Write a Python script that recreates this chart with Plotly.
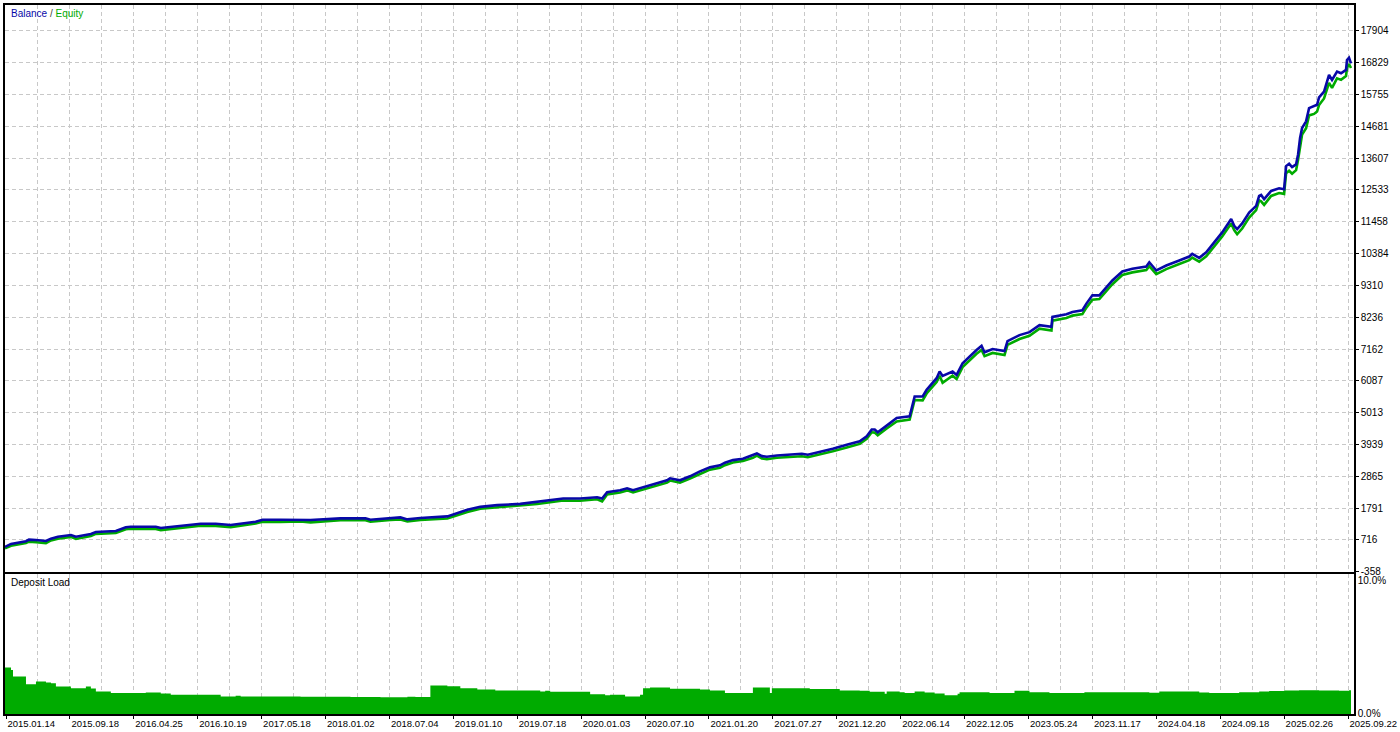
import plotly.graph_objects as go

# ---------------- data ----------------
trade_idx = [0, 6, 21, 24, 31, 41, 46, 53, 66, 71, 86, 91, 111, 121, 126, 151, 156, 186, 196, 211,
             226, 251, 258, 276, 296, 306, 336, 361, 366, 386, 396, 403, 416, 443, 463, 476, 493, 516,
             533, 546, 559, 576, 593, 598, 603, 616, 623, 629, 643, 649, 663, 666, 673, 676, 686, 696,
             706, 716, 721, 729, 739, 749, 753, 758, 763, 773, 786, 798, 804, 816, 829, 843, 856, 863,
             868, 871, 874, 883, 893, 906, 911, 919, 923, 933, 936, 939, 949, 953, 959, 973, 978, 981,
             989, 1001, 1004, 1016, 1026, 1036, 1043, 1048, 1049, 1063, 1069, 1079, 1083, 1089, 1096,
             1101, 1109, 1119, 1129, 1143, 1146, 1153, 1163, 1176, 1186, 1189, 1196, 1203, 1211, 1219,
             1228, 1231, 1234, 1239, 1246, 1253, 1256, 1258, 1261, 1268, 1276, 1281, 1283, 1286, 1289,
             1293, 1295, 1297, 1299, 1303, 1306, 1311, 1314, 1316, 1321, 1326, 1329, 1334, 1338, 1343,
             1344, 1346, 1348]

balance = [481, 582, 673, 726, 716, 683, 760, 827, 884, 827, 918, 985, 1018, 1143, 1163, 1163, 1119,
           1220, 1263, 1263, 1220, 1331, 1398, 1398, 1398, 1388, 1445, 1445, 1398, 1455, 1478, 1411,
           1455, 1512, 1733, 1834, 1891, 1935, 2002, 2059, 2116, 2116, 2160, 2116, 2328, 2395, 2462,
           2395, 2529, 2586, 2730, 2798, 2754, 2730, 2865, 3033, 3167, 3234, 3325, 3412, 3459, 3570,
           3637, 3546, 3526, 3570, 3603, 3627, 3593, 3680, 3795, 3929, 4050, 4218, 4443, 4443, 4352,
           4577, 4835, 4889, 5560, 5560, 5785, 6178, 6400, 6255, 6400, 6289, 6682, 7128, 7272, 7051,
           7162, 7095, 7430, 7632, 7732, 7967, 7934, 7910, 8246, 8337, 8414, 8471, 8696, 8974, 8974,
           9166, 9478, 9780, 9871, 9948, 10092, 9814, 9982, 10149, 10284, 10374, 10240, 10428, 10764,
           11099, 11549, 11324, 11214, 11402, 11771, 11996, 12331, 12365, 12221, 12499, 12590, 12556,
           13339, 13416, 13305, 13396, 13731, 14289, 14624, 14849, 15296, 15353, 15410, 15655, 15856,
           16417, 16249, 16528, 16471, 16585, 16920, 16998, 16806]

equity = [430, 520, 610, 660, 640, 610, 700, 760, 820, 750, 850, 920, 950, 1080, 1100, 1090, 1050,
          1150, 1200, 1190, 1150, 1270, 1330, 1320, 1340, 1310, 1380, 1380, 1330, 1390, 1410, 1340,
          1390, 1440, 1660, 1770, 1820, 1870, 1930, 1990, 2050, 2040, 2090, 2020, 2250, 2320, 2390,
          2320, 2450, 2510, 2650, 2720, 2670, 2650, 2790, 2950, 3090, 3150, 3240, 3330, 3380, 3490,
          3560, 3470, 3440, 3490, 3520, 3540, 3510, 3600, 3710, 3840, 3960, 4130, 4350, 4340, 4250,
          4480, 4720, 4780, 5440, 5430, 5660, 6050, 6260, 6020, 6260, 6150, 6550, 7000, 7130, 6920,
          7030, 6960, 7300, 7500, 7610, 7850, 7810, 7790, 8120, 8210, 8290, 8340, 8560, 8830, 8850,
          9040, 9350, 9660, 9750, 9830, 9960, 9690, 9860, 10030, 10160, 10250, 10110, 10290, 10630,
          10960, 11400, 11180, 11040, 11230, 11600, 11850, 12180, 12150, 12030, 12330, 12430, 12400,
          13100, 13180, 13080, 13200, 13550, 14050, 14400, 14620, 15050, 15100, 15180, 15400, 15620,
          16150, 15980, 16300, 16250, 16380, 16650, 16780, 16650]

load_idx = [0, 6, 8, 16, 21, 28, 31, 41, 46, 51, 66, 81, 86, 91, 96, 106, 136, 141, 156, 166, 206,
            216, 231, 236, 296, 346, 376, 403, 411, 426, 443, 456, 473, 491, 516, 536, 541, 546, 576,
            586, 601, 606, 621, 636, 639, 646, 666, 686, 696, 706, 716, 721, 748, 749, 764, 766, 768,
            796, 806, 826, 836, 856, 866, 881, 883, 896, 901, 911, 921, 931, 941, 948, 954, 956, 986,
            1006, 1011, 1021, 1026, 1046, 1066, 1081, 1116, 1146, 1156, 1196, 1206, 1226, 1236, 1256,
            1266, 1281, 1296, 1316, 1336, 1346, 1348]

load_pct = [3.49, 3.31, 2.81, 2.81, 2.24, 2.24, 2.44, 2.37, 2.31, 2.07, 1.94, 2.07, 1.92, 1.69, 1.69,
            1.57, 1.57, 1.62, 1.54, 1.44, 1.44, 1.32, 1.37, 1.32, 1.30, 1.28, 1.25, 1.29, 1.27, 2.14,
            2.09, 1.94, 1.84, 1.77, 1.77, 1.69, 1.74, 1.66, 1.66, 1.49, 1.40, 1.44, 1.32, 1.44, 1.94,
            1.99, 1.89, 1.89, 1.84, 1.77, 1.77, 1.57, 1.57, 1.99, 1.99, 1.57, 1.94, 1.94, 1.87, 1.87,
            1.77, 1.74, 1.66, 1.51, 1.69, 1.64, 1.57, 1.69, 1.62, 1.54, 1.40, 1.40, 1.51, 1.64, 1.57,
            1.57, 1.74, 1.74, 1.64, 1.57, 1.57, 1.64, 1.64, 1.59, 1.69, 1.62, 1.57, 1.57, 1.64, 1.69,
            1.72, 1.77, 1.79, 1.77, 1.74, 1.79, 1.79]

date_tick_pos = [1, 65, 129, 193, 257, 321, 385, 449, 513, 577, 641, 705, 769, 833, 897, 961, 1025,
                 1089, 1153, 1217, 1281, 1345]
date_tick_text = ["2015.01.14", "2015.09.18", "2016.04.25", "2016.10.19", "2017.05.18", "2018.01.02",
                  "2018.07.04", "2019.01.10", "2019.07.18", "2020.01.03", "2020.07.10", "2021.01.20",
                  "2021.07.27", "2021.12.20", "2022.06.14", "2022.12.05", "2023.05.24", "2023.11.17",
                  "2024.04.18", "2024.09.18", "2025.02.26", "2025.09.22"]

bal_tick_vals = [-358, 716, 1791, 2865, 3939, 5013, 6087, 7162, 8236, 9310, 10384, 11458, 12533,
                 13607, 14681, 15755, 16829, 17904]
bal_tick_text = [str(v) for v in bal_tick_vals]

load_tick_vals = [0, 10]
load_tick_text = ["0.0%", "10.0%"]

# ---------------- style ----------------
BLUE = "#0808a8"
GREEN = "#00ab00"
GRID = "#c8c8c8"
FONT = "Liberation Sans, Arial, sans-serif"
FS = 10
FSX = 9.5

fig = go.Figure()
fig.add_trace(go.Scatter(x=trade_idx, y=equity, mode="lines", line=dict(color=GREEN, width=2.6),
                         xaxis="x", yaxis="y", hoverinfo="skip", name="Equity"))
fig.add_trace(go.Scatter(x=trade_idx, y=balance, mode="lines", line=dict(color=BLUE, width=2.6),
                         xaxis="x", yaxis="y", hoverinfo="skip", name="Balance"))
fig.add_trace(go.Scatter(x=load_idx, y=load_pct, mode="lines", line=dict(color=GREEN, width=0, shape="hv"),
                         fill="tozeroy", fillcolor=GREEN, xaxis="x2", yaxis="y2", hoverinfo="skip",
                         name="Deposit Load"))

xcommon = dict(range=[0, 1351], showgrid=True, gridcolor=GRID, griddash="4px,3px", gridwidth=1,
               showline=True, mirror=True, linecolor="#000000", linewidth=2, zeroline=False,
               tickmode="array", tickvals=date_tick_pos,
               minor=dict(tickmode="linear", tick0=1, dtick=32, showgrid=True, gridcolor=GRID,
                          griddash="4px,3px", gridwidth=1))

fig.update_layout(
    width=1400, height=732,
    margin=dict(l=4, r=45, t=3, b=16),
    paper_bgcolor="white", plot_bgcolor="white",
    showlegend=False,
    font=dict(family=FONT, size=FS, color="#000000"),
    xaxis=dict(**xcommon, anchor="y", matches="x2", showticklabels=False, ticks=""),
    xaxis2=dict(**xcommon, anchor="y2", ticktext=date_tick_text, ticklabelposition="outside right",
                ticks="outside", ticklen=3, tickcolor="#000000",
                tickfont=dict(family=FONT, size=FSX, color="#000000")),
    yaxis=dict(domain=[0.2006, 1.0], anchor="x", side="right", range=[-358, 18777],
               tickmode="array", tickvals=bal_tick_vals, ticktext=bal_tick_text,
               showgrid=True, gridcolor=GRID, griddash="4px,3px", gridwidth=1, zeroline=False,
               showline=True, mirror=True, linecolor="#000000", linewidth=1.5,
               ticks="outside", ticklen=3, tickcolor="#000000",
               tickfont=dict(family=FONT, size=FS, color="#000000")),
    yaxis2=dict(domain=[0.0, 0.1978], anchor="x2", side="right", range=[0, 10.52],
                tickmode="array", tickvals=load_tick_vals, ticktext=load_tick_text,
                showgrid=False, zeroline=False,
                showline=True, mirror=True, linecolor="#000000", linewidth=1.5,
                ticks="", tickfont=dict(family=FONT, size=FS, color="#000000")),
    annotations=[
        dict(xref="paper", yref="paper", x=0.003, y=0.9875, xanchor="left", yanchor="middle",
             showarrow=False, font=dict(family=FONT, size=FS, color="#404040"),
             text="<span style='color:#0808a8'>Balance</span> / <span style='color:#00ab00'>Equity</span>"),
        dict(xref="paper", yref="paper", x=0.003, y=0.1855, xanchor="left", yanchor="middle",
             showarrow=False, font=dict(family=FONT, size=FS, color="#000000"),
             text="Deposit Load"),
    ],
)

fig.write_html("out.html", config={"displayModeBar": False},
               post_script="document.body.style.margin='0';document.body.style.overflow='hidden';")
